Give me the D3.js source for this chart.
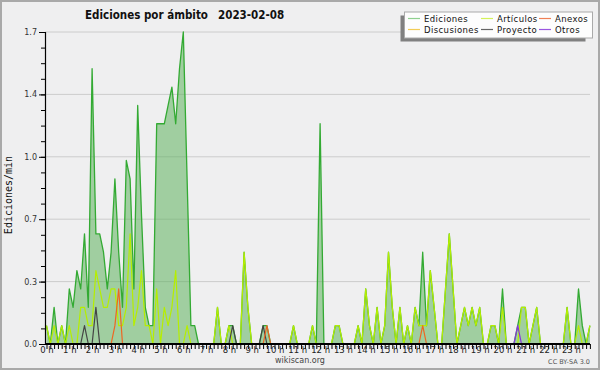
<!DOCTYPE html>
<html>
<head>
<meta charset="utf-8">
<script src="https://cdn.jsdelivr.net/npm/d3@7"></script>
<style>
  body { margin: 0; background: #fff; }
  svg { display: block; }
  text { font-family: "DejaVu Sans", sans-serif; }
</style>
</head>
<body>
<svg></svg>
<script>
var svgWidth = 600;
var svgHeight = 370;

/* one value every 10 minutes, 6 per hour, one row per hour */
var ediciones = [
  0.1,0,0.2,0,0.1,0,
  0.3,0.2,0.4,0.3,0.6,0.2,
  1.5,0.6,0.6,0.5,0.3,0.5,
  0.9,0.5,0.2,1.0,0.9,0.3,
  1.3,0.7,0.2,0.1,0.1,1.2,
  1.2,1.2,1.3,1.4,1.2,1.5,
  1.7,0.9,0.1,0.1,0,0,
  0,0,0,0.2,0,0,
  0.1,0.1,0,0,0.5,0.2,
  0,0,0,0.1,0.1,0,
  0,0,0,0,0,0.1,
  0,0,0,0,0.1,0,
  1.2,0,0,0,0.1,0.1,
  0,0,0,0,0.1,0,
  0.3,0.1,0,0.2,0,0.1,
  0.5,0.2,0,0.2,0,0.1,
  0,0.2,0.1,0.5,0.1,0.4,
  0.2,0,0,0.3,0.6,0.3,
  0,0.1,0.2,0.1,0.2,0.1,
  0.2,0,0,0.1,0.1,0,
  0.3,0,0,0,0.1,0.2,
  0.2,0,0.1,0.2,0,0,
  0,0,0,0,0,0.2,
  0,0,0.3,0.1,0,0.1
];
var articulos = [
  0.1,0,0.1,0,0.1,0,
  0.1,0,0,0.2,0.2,0.1,
  0.1,0.4,0.3,0.2,0.2,0.3,
  0.3,0.1,0.1,0.2,0.6,0.1,
  0.2,0.4,0.1,0.1,0,0.3,
  0,0.2,0.1,0.2,0.4,0,
  0,0.1,0,0,0,0,
  0,0,0,0.2,0,0,
  0.1,0,0,0,0.5,0.2,
  0,0,0,0,0,0,
  0,0,0,0,0,0.1,
  0,0,0,0,0.1,0,
  0,0,0,0,0.1,0.1,
  0,0,0,0,0.1,0,
  0.3,0.1,0,0.2,0,0.1,
  0.5,0.2,0,0.2,0,0.1,
  0,0.2,0.1,0.1,0.1,0.4,
  0.2,0,0,0.3,0.6,0.3,
  0,0.1,0.2,0.1,0.2,0.1,
  0.2,0,0,0.1,0.1,0,
  0.2,0,0,0,0,0.2,
  0.2,0,0.1,0.2,0,0,
  0,0,0,0,0,0.2,
  0,0,0.1,0,0,0.1
];
/* the next series: one row per 4 hours */
var discusiones = [
  0,0,0,0,0,0, 0,0,0,0,0,0, 0,0,0,0,0,0, 0,0,0,0,0,0,
  0,0,0,0,0,0, 0,0,0,0,0,0, 0,0,0,0,0,0, 0,0,0,0,0,0,
  0,0,0,0,0,0, 0,0,0,0,0,0, 0,0,0,0,0,0, 0,0,0,0,0,0,
  0,0,0,0,0,0, 0,0,0,0,0,0, 0,0,0,0,0,0, 0,0,0,0,0,0,
  0,0,0,0,0,0, 0,0,0,0,0,0, 0,0,0,0,0,0, 0,0,0,0,0,0,
  0,0,0,0,0,0, 0,0,0,0,0,0, 0,0,0,0,0,0, 0,0,0,0,0,0
];
var proyecto = [
  0,0,0,0,0,0, 0,0,0,0,0.1,0, 0,0.2,0,0,0,0, 0,0,0,0,0,0,
  0,0,0,0,0,0, 0,0,0,0,0,0, 0,0,0,0,0,0, 0,0,0,0,0,0,
  0,0.1,0,0,0,0, 0,0,0,0.1,0,0, 0,0,0,0,0,0, 0,0,0,0,0,0,
  0,0,0,0,0,0, 0,0,0,0,0,0, 0,0,0,0,0,0, 0,0,0,0,0,0,
  0,0,0,0,0,0, 0,0,0,0,0,0, 0,0,0,0,0,0, 0,0,0,0,0,0,
  0,0,0,0,0,0, 0,0,0,0,0,0, 0,0,0,0,0,0, 0,0,0,0,0,0
];
var anexos = [
  0,0,0,0,0,0, 0,0,0,0,0,0, 0,0,0,0,0,0, 0.1,0.3,0,0,0,0,
  0,0,0,0,0,0, 0,0,0,0,0,0, 0,0,0,0,0,0, 0,0,0,0,0,0,
  0,0,0,0,0,0, 0,0,0,0,0.1,0, 0,0,0,0,0,0, 0,0,0,0,0,0,
  0,0,0,0,0,0, 0,0,0,0,0,0, 0,0,0,0,0,0, 0,0,0,0,0,0,
  0,0,0,0.1,0,0, 0,0,0,0,0,0, 0,0,0,0,0,0, 0,0,0,0,0,0,
  0,0,0,0,0,0, 0,0,0,0,0,0, 0,0,0,0,0,0, 0,0,0,0,0,0
];
var otros = [
  0,0,0,0,0,0, 0,0,0,0,0,0, 0,0,0,0,0,0, 0,0,0,0,0,0,
  0,0,0,0,0,0, 0,0,0,0,0,0, 0,0,0,0,0,0, 0,0,0,0,0,0,
  0,0,0,0,0,0, 0,0,0,0,0,0, 0,0,0,0,0,0, 0,0,0,0,0,0,
  0,0,0,0,0,0, 0,0,0,0,0,0, 0,0,0,0,0,0, 0,0,0,0,0,0,
  0,0,0,0,0,0, 0,0,0,0,0,0, 0,0,0,0,0,0, 0,0,0,0,0,0,
  0,0,0,0,0.1,0, 0,0,0,0,0,0, 0,0,0,0,0,0, 0,0,0,0,0,0
];

var hourLabels = ['0 h','1 h','2 h','3 h','4 h','5 h','6 h','7 h','8 h','9 h','10 h','11 h',
                  '12 h','13 h','14 h','15 h','16 h','17 h','18 h','19 h','20 h','21 h','22 h','23 h'];
var yTicks = [0, 0.34, 0.68, 1.02, 1.36, 1.7];
var yMax = 1.7;
var stepMin = 10;

var legendItems = [
  {name: 'Ediciones', color: '#8fd08f'},
  {name: 'Discusiones', color: '#f2cc55'},
  {name: 'Artículos', color: '#d4f25a'},
  {name: 'Proyecto', color: '#666666'},
  {name: 'Anexos', color: '#f08055'},
  {name: 'Otros', color: '#9955e0'}
];

var svg = d3.select('svg')
  .attr('width', svgWidth)
  .attr('height', svgHeight);

svg.append('rect')
  .attr('x', 0).attr('y', 0)
  .attr('width', svgWidth).attr('height', svgHeight)
  .style('fill', '#efeff0');
svg.append('rect')
  .attr('x', 1).attr('y', 1)
  .attr('width', svgWidth - 2).attr('height', svgHeight - 2)
  .style('fill', 'none')
  .style('stroke', '#a9a9a9')
  .style('stroke-width', 2);

var x = d3.scaleLinear().domain([0, 1440]).range([46.5, 46.5 + 144 * 3.8]);
var y = d3.scaleLinear().domain([0, yMax]).range([344, 32]);
var xLeft = 45, xRight = 590;

/* grid lines */
svg.append('g')
  .selectAll('line')
  .data(yTicks.slice(1))
  .enter()
  .append('line')
  .attr('x1', xLeft).attr('x2', xRight)
  .attr('y1', d => y(d)).attr('y2', d => y(d))
  .style('stroke', '#cccccc')
  .style('stroke-width', 1);

/* series */
var line = d3.line()
  .x((d, i) => x(i * stepMin))
  .y(d => y(d));
var area = d3.area()
  .x((d, i) => x(i * stepMin))
  .y0(y(0))
  .y1(d => y(d));

svg.append('path')
  .datum(ediciones)
  .attr('d', area)
  .style('fill', '#5fb35f')
  .style('fill-opacity', 0.55);

function drawLine(values, color, width){
  svg.append('path')
    .datum(values)
    .attr('d', line)
    .style('fill', 'none')
    .style('stroke', color)
    .style('stroke-width', width)
    .style('stroke-linejoin', 'round');
}
drawLine(ediciones, '#33aa33', 1.3);
drawLine(discusiones, '#f2c230', 1.2);
drawLine(articulos, '#b6ee00', 1.2);
drawLine(proyecto, '#444444', 1.2);
drawLine(anexos, '#ee6622', 1.2);
drawLine(otros, '#8833dd', 1.2);

/* y axis */
var yAxis = svg.append('g')
  .attr('transform', `translate(${xLeft},0)`)
  .call(d3.axisLeft(y).tickValues(yTicks).tickSize(6).tickPadding(2).tickFormat(d3.format('.1f')));
yAxis.select('.domain').remove();
yAxis.selectAll('line').style('stroke', '#000');
yAxis.selectAll('text').style('font-size', '8px').style('fill', '#333').style('font-family', '"DejaVu Sans", sans-serif');

var yMinor = svg.append('g')
  .attr('transform', `translate(${xLeft},0)`)
  .call(d3.axisLeft(y).tickValues(d3.range(0, yMax, 0.085)).tickSize(4).tickFormat(''));
yMinor.select('.domain').remove();
yMinor.selectAll('line').style('stroke', '#000');

svg.append('line')
  .attr('x1', xLeft + 0.5).attr('x2', xLeft + 0.5)
  .attr('y1', y(yMax)).attr('y2', y(0))
  .style('stroke', '#000').style('stroke-width', 1.2);

/* x axis */
var xMinor = svg.append('g')
  .attr('transform', `translate(0,${y(0)})`)
  .call(d3.axisBottom(x).tickValues(d3.range(0, 1440, stepMin)).tickSize(5).tickFormat(''));
xMinor.select('.domain').remove();
xMinor.selectAll('line').style('stroke', '#000');

var xAxis = svg.append('g')
  .attr('transform', `translate(0,${y(0)})`)
  .call(d3.axisBottom(x).tickValues(hourLabels.map((d, i) => i * 60)).tickSize(0).tickPadding(3)
        .tickFormat((d, i) => hourLabels[i]));
xAxis.select('.domain').remove();
xAxis.selectAll('text').style('font-size', '8.5px').style('fill', '#222').style('font-family', '"DejaVu Sans", sans-serif');

svg.append('line')
  .attr('x1', xLeft).attr('x2', xRight)
  .attr('y1', y(0)).attr('y2', y(0))
  .style('stroke', '#000').style('stroke-width', 2);

/* texts */
svg.append('text')
  .attr('x', 85).attr('y', 18.5)
  .text('Ediciones por ámbito')
  .style('font-family', '"DejaVu Sans Condensed", "DejaVu Sans", sans-serif')
  .style('font-stretch', 'condensed')
  .style('font-weight', 'bold')
  .style('font-size', '11.5px')
  .style('fill', '#111');
svg.append('text')
  .attr('x', 218).attr('y', 18.5)
  .text('2023-02-08')
  .style('font-family', '"DejaVu Sans Condensed", "DejaVu Sans", sans-serif')
  .style('font-stretch', 'condensed')
  .style('font-weight', 'bold')
  .style('font-size', '11.5px')
  .style('fill', '#111');

svg.append('text')
  .attr('transform', 'translate(12,195) rotate(-90)')
  .attr('text-anchor', 'middle')
  .text('Ediciones/min')
  .style('font-family', '"DejaVu Sans Mono", monospace')
  .style('font-size', '10px')
  .style('fill', '#111');

svg.append('text')
  .attr('x', 300).attr('y', 363)
  .attr('text-anchor', 'middle')
  .text('wikiscan.org')
  .style('font-size', '8px')
  .style('fill', '#444');

svg.append('text')
  .attr('x', 590).attr('y', 364)
  .attr('text-anchor', 'end')
  .text('CC BY-SA 3.0')
  .style('font-size', '6.5px')
  .style('fill', '#555');

/* legend */
var legend = svg.append('g').attr('transform', 'translate(404,11.5)');
legend.append('rect')
  .attr('x', -3.5).attr('y', 4)
  .attr('width', 185).attr('height', 26)
  .style('fill', '#808080');
legend.append('rect')
  .attr('x', 0.5).attr('y', 0.5)
  .attr('width', 188).attr('height', 26)
  .style('fill', '#fdfdfd')
  .style('stroke', '#aaaaaa');

var colX = [4, 77, 135];
var rowY = [7, 18];
var items = legend.selectAll('g.item')
  .data(legendItems)
  .enter()
  .append('g')
  .attr('class', 'item')
  .attr('transform', (d, i) => `translate(${colX[Math.floor(i / 2)]},${rowY[i % 2]})`);
items.append('line')
  .attr('x1', 0).attr('x2', 12)
  .attr('y1', 0).attr('y2', 0)
  .style('stroke', d => d.color)
  .style('stroke-width', 1.2);
items.append('text')
  .attr('x', 16).attr('y', 3.5)
  .text(d => d.name)
  .style('font-size', '8.5px')
  .style('letter-spacing', '0.4px')
  .style('fill', '#111');
</script>
</body>
</html>
